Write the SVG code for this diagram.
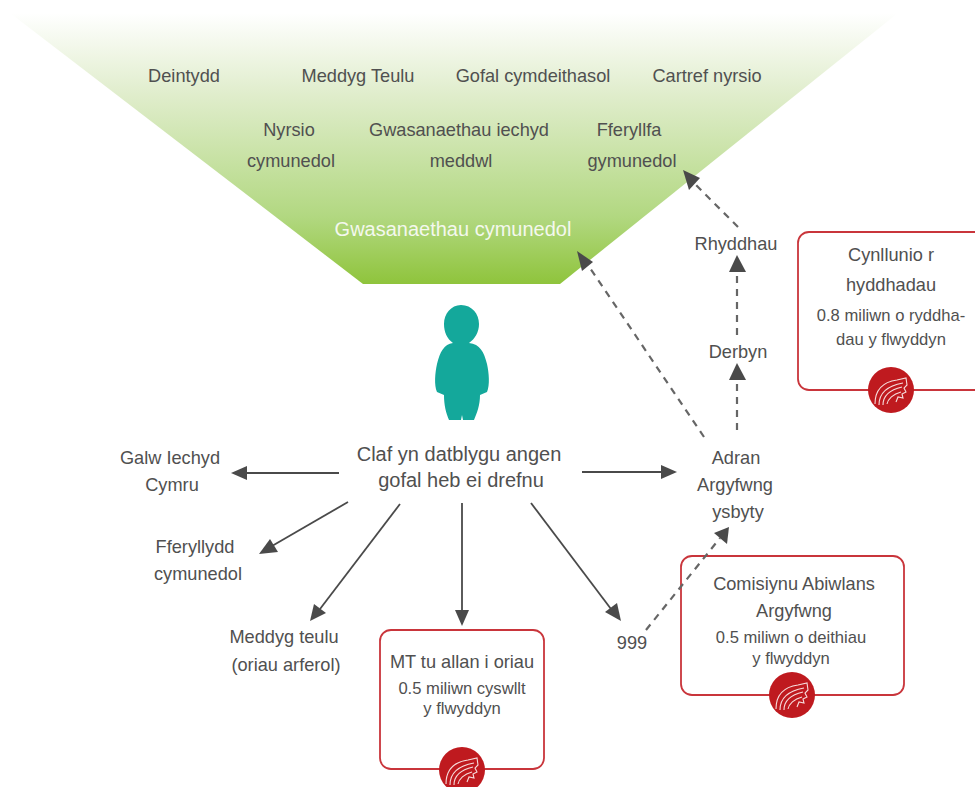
<svg xmlns="http://www.w3.org/2000/svg" xmlns:xlink="http://www.w3.org/1999/xlink" width="975" height="787" viewBox="0 0 975 787">
<style>
text{font-family:"Liberation Sans",Arial,sans-serif;fill:#505050;text-anchor:middle;font-size:18.2px}
.s{font-size:16.6px}
.w{fill:#f4f8ee}
.c{stroke:#4a4a4a;stroke-width:1.8;fill:none}
.d{stroke:#666;stroke-width:2.2;fill:none;stroke-dasharray:7 6}
.h{fill:#4a4a4a;stroke:none}
.box{fill:#fff;stroke:#c9353b;stroke-width:1.8}
.lg{fill:#bf1a1f}
.wing{fill:none;stroke:#f6dcdc;stroke-width:1.1}
</style>
<defs>
<linearGradient id="g" x1="0" y1="0" x2="0" y2="1">
<stop offset="0" stop-color="#fff"/>
<stop offset=".3" stop-color="#e0edcc"/>
<stop offset=".75" stop-color="#b2d881"/>
<stop offset="1" stop-color="#8fc43c"/>
</linearGradient>
<g id="logo">
<circle r="23" class="lg"/>
<path class="wing" d="M-16 14C-16 0-8-8 6-10L15-12 16-5 13-2 15 2 11 4 12 8 7 7 5 12"/>
<path class="wing" d="M-12 15C-12 4-5-4 12-7M-8 15C-8 7-2 0 11-3M-4 14C-3 9 2 4 10 2"/>
</g>
</defs>
<g id="funnel">
<path d="M10 13L898 13 560 284 363 284Z" fill="url(#g)"/>
<text x="184" y="82">Deintydd</text>
<text x="358" y="82">Meddyg Teulu</text>
<text x="533" y="82">Gofal cymdeithasol</text>
<text x="707" y="82">Cartref nyrsio</text>
<text x="289" y="136">Nyrsio</text>
<text x="291" y="167">cymunedol</text>
<text x="459" y="136">Gwasanaethau iechyd</text>
<text x="461" y="167">meddwl</text>
<text x="629" y="136">Fferyllfa</text>
<text x="632" y="167">gymunedol</text>
<text x="453" y="236" class="w" style="font-size:20px">Gwasanaethau cymunedol</text>
</g>
<g id="patient">
<path fill="#14a89b" d="M461 305C472 305 479 314 479 324C479 332 475 339 469 343C480 344 484 352 487 364C489 373 490 385 487 392L480 395C480 405 477 413 474 420L463 420 462 415 461 420 449 420C446 413 444 405 444 395L437 392C434 385 435 373 437 364C440 352 444 344 453 343C447 339 444 332 444 324C444 314 451 305 461 305Z"/>
</g>
<g id="centre"><text x="459" y="461" style="font-size:20px">Claf yn datblygu angen</text><text x="461" y="487" style="font-size:20px">gofal heb ei drefnu</text></g>
<g id="galw"><text x="170" y="464">Galw Iechyd</text><text x="172" y="491">Cymru</text></g>
<g id="fferyllydd"><text x="195" y="553">Fferyllydd</text><text x="198" y="580">cymunedol</text></g>
<g id="meddyg"><text x="284" y="643">Meddyg teulu</text><text x="286" y="671">(oriau arferol)</text></g>
<g id="n999"><text x="632" y="649">999</text></g>
<g id="adran"><text x="736" y="464">Adran</text><text x="735" y="491">Argyfwng</text><text x="738" y="518">ysbyty</text></g>
<g id="derbyn"><text x="738" y="358">Derbyn</text></g>
<g id="rhyddhau"><text x="736" y="250">Rhyddhau</text></g>
<g id="mt">
<rect class="box" x="380" y="630" width="164" height="139" rx="11"/>
<text x="462" y="668">MT tu allan i oriau</text>
<text x="462" y="694" class="s">0.5 miliwn cyswllt</text>
<text x="462" y="714" class="s">y flwyddyn</text>
<use xlink:href="#logo" href="#logo" x="462" y="770"/>
</g>
<g id="comisiynu">
<rect class="box" x="681" y="556" width="223" height="139" rx="11"/>
<text x="794" y="590">Comisiynu Abiwlans</text>
<text x="794" y="617">Argyfwng</text>
<text x="791" y="643" class="s">0.5 miliwn o deithiau</text>
<text x="791" y="664" class="s">y flwyddyn</text>
<use xlink:href="#logo" href="#logo" x="792" y="695"/>
</g>
<g id="cynllunio">
<path class="box" d="M976 232H809A11 11 0 0 0 798 243V379A11 11 0 0 0 809 390H976"/>
<text x="891" y="261">Cynllunio r</text>
<text x="891" y="291">hyddhadau</text>
<text x="891" y="321" class="s">0.8 miliwn o ryddha-</text>
<text x="891" y="345" class="s">dau y flwyddyn</text>
<use xlink:href="#logo" href="#logo" x="891" y="390"/>
</g>
<g id="connectors">
<path class="c" d="M339 473H246"/><path class="h" d="M231 473L247 466V480Z"/>
<path class="c" d="M348 502L272 546"/><path class="h" d="M259 554L270 539 278 552Z"/>
<path class="c" d="M400 504L320 609"/><path class="h" d="M310 621L314 604 326 613Z"/>
<path class="c" d="M462 503V612"/><path class="h" d="M462 626L455 610H469Z"/>
<path class="c" d="M531 503L611 609"/><path class="h" d="M621 621L605 612 617 603Z"/>
<path class="c" d="M582 472H662"/><path class="h" d="M677 472L661 465V479Z"/>
<path class="d" d="M646 630L720 538"/><path class="h" d="M729 527L727 544 714 533Z"/>
<path class="d" d="M737 430V378"/><path class="h" d="M737 363L746 380H729Z"/>
<path class="d" d="M737 335V270"/><path class="h" d="M737 255L746 272H729Z"/>
<path class="d" d="M738 227L694 183"/><path class="h" d="M683 170L700 178 689 190Z"/>
<path class="d" d="M704 437L588 265"/><path class="h" d="M577 251L593 262 582 271Z"/>
</g>
</svg>
